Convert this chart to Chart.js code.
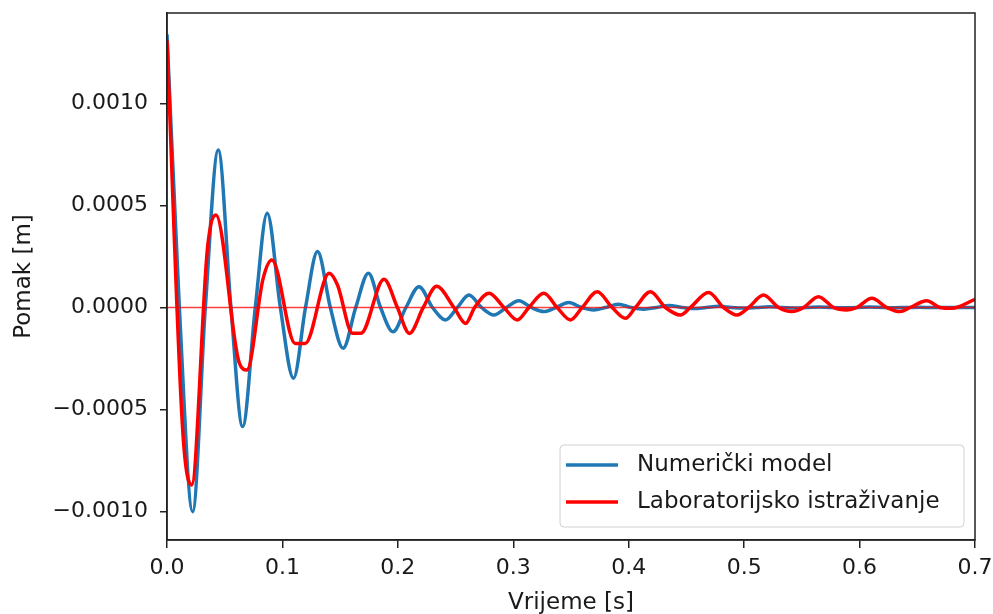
<!DOCTYPE html>
<html>
<head>
<meta charset="utf-8">
<script src="https://cdn.jsdelivr.net/npm/chart.js@4.4.1/dist/chart.umd.min.js"></script>
<style>
  html, body { margin: 0; padding: 0; background: #ffffff; }
  #wrap { width: 993px; height: 614px; }
</style>
</head>
<body>
<div id="wrap"><canvas id="c" width="993" height="614"></canvas></div>
<script>
// ---- Data ----
const seriesLabels = ['Numerički model', 'Laboratorijsko istraživanje'];

const timeNumeric = [0, 0.0107, 0.0222, 0.0332, 0.0444, 0.0554, 0.0655, 0.0765, 0.0868, 0.0982,
  0.1096, 0.1200, 0.1304, 0.1415, 0.1526, 0.1635, 0.1745, 0.1850, 0.1958, 0.2070,
  0.2183, 0.2300, 0.2414, 0.2515, 0.2616, 0.2725, 0.2832, 0.2940, 0.3048, 0.3155,
  0.3265, 0.3370, 0.3480, 0.3590, 0.3697, 0.3800, 0.3910, 0.4020, 0.4130, 0.4240,
  0.4350, 0.4460, 0.4565, 0.4670, 0.4780, 0.4890, 0.5000, 0.5110, 0.5220, 0.5330,
  0.5435, 0.5540, 0.5650, 0.5760, 0.5870, 0.5980, 0.6090, 0.6200, 0.6300, 0.6410,
  0.6520, 0.6630, 0.6740, 0.6850, 0.7000];
const valueNumeric = [0.00134, 0, -0.001001, 0, 0.000772, 0, -0.000584, 0, 0.000462, 0,
  -0.000347, 0, 0.000274, 0, -0.000200, 0, 0.000168, 0, -0.000119, 0,
  0.000102, 0, -0.000061, 0, 0.000061, 0, -0.000037, 0, 0.000033, 0,
  -0.000020, 0, 0.000024, 0, -0.000012, 0, 0.000016, 0, -0.000008, 0,
  0.000010, 0, -0.000005, 0, 0.000006, 0, -0.000003, 0, 0.000004, 0,
  -0.000002, 0, 0.000003, 0, -0.000001, 0, 0.000002, 0, -0.000001, 0,
  0.000001, 0, 0, 0, 0];

const timeLab = [0, 0.0136, 0.0213, 0.0352, 0.0424, 0.0626, 0.0692, 0.0833, 0.0909, 0.1110,
  0.1197, 0.1405, 0.1477, 0.1607, 0.1680, 0.1880, 0.1996, 0.2100, 0.2220, 0.2336,
  0.2486, 0.2587, 0.2665, 0.2790, 0.2919, 0.3034, 0.3135, 0.3265, 0.3380,
  0.3496, 0.3597, 0.3727, 0.3857, 0.3972, 0.4058, 0.4188, 0.4318, 0.4448, 0.4534,
  0.4692, 0.4822, 0.4938, 0.5039, 0.5168, 0.5298, 0.5414, 0.5515, 0.5644, 0.5774,
  0.5890, 0.5977, 0.6106, 0.6236, 0.6351, 0.6438, 0.6582, 0.6697, 0.6798, 0.7000];
const valueLab = [0.00131, -0.000600, -0.000870, 0.000298, 0.000453, -0.000272, -0.000306, 0.000143, 0.000233, -0.000176,
  -0.000176, 0.000168, 0.000110, -0.000126, -0.000126, 0.000138, 0, -0.000127, 0, 0.000104,
  0, -0.000078, 0, 0.000070, 0, -0.000061, 0, 0.000070, 0,
  -0.000061, 0, 0.000077, 0, -0.000053, 0, 0.000077, 0, -0.000037, 0,
  0.000073, 0, -0.000037, 0, 0.000061, 0, -0.000020, 0, 0.000053, 0,
  -0.000012, 0, 0.000045, 0, -0.000020, 0, 0.000033, 0, -0.000004, 0.000040];

const zeroLineTime = [0, 0.7];
const zeroLineValue = [0, 0];

const xTicks = [0.0, 0.1, 0.2, 0.3, 0.4, 0.5, 0.6, 0.7];
const yTicks = [-0.0010, -0.0005, 0.0000, 0.0005, 0.0010];

const xTitle = 'Vrijeme [s]';
const yTitle = 'Pomak [m]';

// ---- Build chart ----
function pts(xs, ys) { return xs.map((x, i) => ({ x: x, y: ys[i] })); }

const FONT = 'DejaVu Sans';
const TXT = '#1a1a1a';
const AX = '#222222';
const BLUE = '#1f77b4';
const RED = '#ff0000';

const frameAndLegend = {
  id: 'frameAndLegend',
  afterDatasetsDraw(chart) {
    const ctx = chart.ctx;
    const a = chart.chartArea;
    ctx.save();
    ctx.strokeStyle = AX;
    ctx.lineWidth = 1.5;
    ctx.strokeRect(a.left, a.top, a.right - a.left, a.bottom - a.top);

    const w = 404, h = 82;
    const x0 = a.right - 11 - w, y0 = a.bottom - 13 - h;
    const r = 4;
    ctx.beginPath();
    ctx.moveTo(x0 + r, y0);
    ctx.lineTo(x0 + w - r, y0);
    ctx.quadraticCurveTo(x0 + w, y0, x0 + w, y0 + r);
    ctx.lineTo(x0 + w, y0 + h - r);
    ctx.quadraticCurveTo(x0 + w, y0 + h, x0 + w - r, y0 + h);
    ctx.lineTo(x0 + r, y0 + h);
    ctx.quadraticCurveTo(x0, y0 + h, x0, y0 + h - r);
    ctx.lineTo(x0, y0 + r);
    ctx.quadraticCurveTo(x0, y0, x0 + r, y0);
    ctx.closePath();
    ctx.fillStyle = 'rgba(255,255,255,0.85)';
    ctx.fill();
    ctx.strokeStyle = '#d0d0d0';
    ctx.lineWidth = 1;
    ctx.stroke();

    const colors = [BLUE, RED];
    ctx.font = '23px "' + FONT + '"';
    ctx.textBaseline = 'middle';
    ctx.textAlign = 'left';
    seriesLabels.forEach((lab, i) => {
      const yy = y0 + 20 + i * 37;
      ctx.strokeStyle = colors[i];
      ctx.lineWidth = 3.5;
      ctx.beginPath();
      ctx.moveTo(x0 + 6, yy);
      ctx.lineTo(x0 + 58, yy);
      ctx.stroke();
      ctx.fillStyle = TXT;
      ctx.fillText(lab, x0 + 77, yy);
    });
    ctx.restore();
  }
};

const fmtY = v => {
  const s = Math.abs(v) < 1e-12 ? '0.0000' : Math.abs(v).toFixed(4);
  return v < -1e-12 ? '\u2212' + s : s;
};

new Chart(document.getElementById('c'), {
  type: 'line',
  data: {
    datasets: [
      {
        label: 'zero',
        data: pts(zeroLineTime, zeroLineValue),
        borderColor: 'rgba(255,0,0,0.75)',
        borderWidth: 1.5,
        pointRadius: 0,
        order: 0
      },
      {
        label: seriesLabels[1],
        data: pts(timeLab, valueLab),
        borderColor: RED,
        borderWidth: 3.5,
        pointRadius: 0,
        cubicInterpolationMode: 'monotone',
        order: 1
      },
      {
        label: seriesLabels[0],
        data: pts(timeNumeric, valueNumeric),
        borderColor: BLUE,
        borderWidth: 3.5,
        pointRadius: 0,
        cubicInterpolationMode: 'monotone',
        order: 2
      }
    ]
  },
  options: {
    responsive: false,
    animation: false,
    devicePixelRatio: 1,
    layout: { padding: { top: 13, right: 18, left: 0, bottom: 0 } },
    plugins: { legend: { display: false }, tooltip: { enabled: false } },
    scales: {
      x: {
        type: 'linear',
        min: 0, max: 0.7,
        afterBuildTicks: s => { s.ticks = xTicks.map(v => ({ value: v })); },
        afterFit: s => { s.height = 74; s.paddingLeft = 0; s.paddingRight = 0; },
        ticks: {
          callback: v => v.toFixed(1),
          font: { family: FONT, size: 22 },
          color: TXT,
          padding: 7,
          maxRotation: 0,
          autoSkip: false
        },
        grid: { drawOnChartArea: false, drawTicks: true, tickLength: 8, color: AX, lineWidth: 1.5 },
        border: { display: true, color: AX, width: 1.5 },
        title: { display: true, text: xTitle, font: { family: FONT, size: 23 }, color: TXT, padding: { top: 0, bottom: -3 } }
      },
      y: {
        type: 'linear',
        min: -0.00114, max: 0.001444,
        afterBuildTicks: s => { s.ticks = yTicks.map(v => ({ value: v })); },
        afterFit: s => { s.width = 167; s.paddingTop = 0; s.paddingBottom = 0; },
        ticks: {
          callback: v => fmtY(v),
          font: { family: FONT, size: 22 },
          color: TXT,
          padding: 12,
          autoSkip: false
        },
        grid: { drawOnChartArea: false, drawTicks: true, tickLength: 7, color: AX, lineWidth: 1.5 },
        border: { display: true, color: AX, width: 1.5 },
        title: { display: true, text: yTitle, font: { family: FONT, size: 23 }, color: TXT, padding: { top: 10, bottom: 0 } }
      }
    }
  },
  plugins: [frameAndLegend]
});
</script>
</body>
</html>
